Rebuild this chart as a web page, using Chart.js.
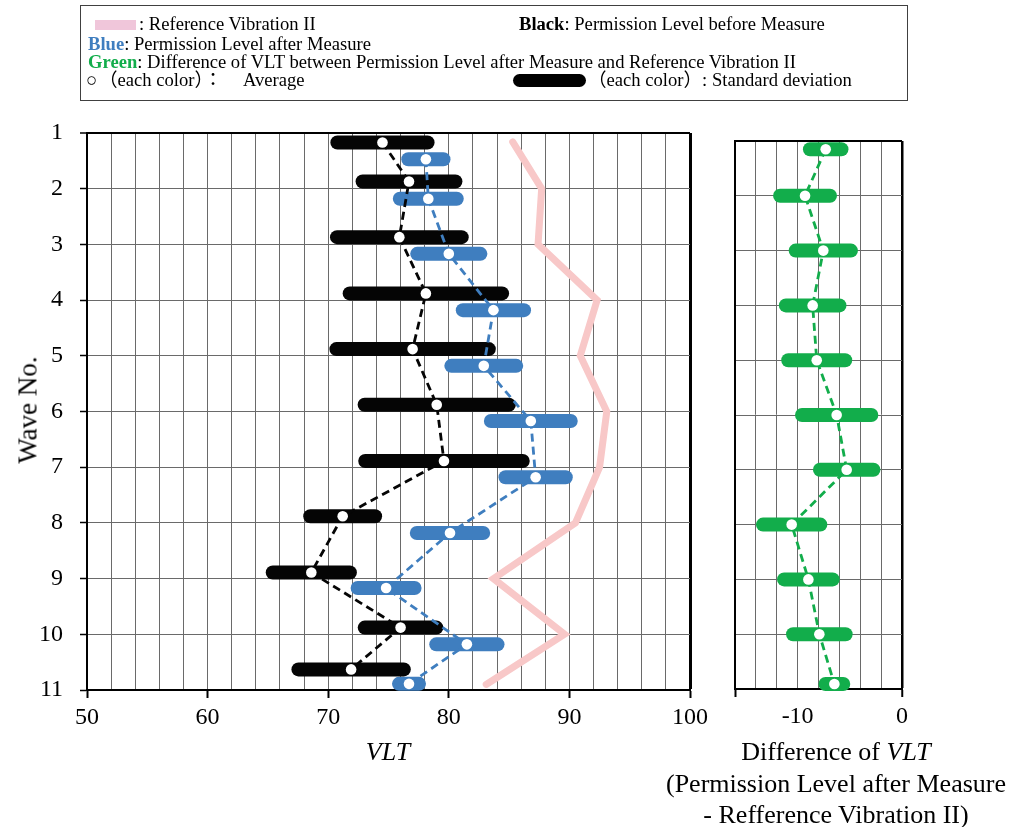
<!DOCTYPE html>
<html>
<head>
<meta charset="utf-8">
<script src="https://cdn.jsdelivr.net/npm/chart.js@4.4.0/dist/chart.umd.min.js"></script>
<style>
  body { margin: 0; background: #fff; }
  #page { position: relative; width: 1013px; height: 827px; overflow: hidden;
          font-family: "Liberation Serif", "Times New Roman", "Noto Sans CJK JP", serif; color: #000; }
  canvas { position: absolute; top: 0; }
  .t { position: absolute; white-space: pre; transform: translateY(-50%); line-height: 1; }
  .lg { font-size: 18.6px; }
  .c { transform: translate(-50%, -50%); font-size: 26px; }
  #legend { position: absolute; left: 80px; top: 5px; width: 826px; height: 94px; border: 1px solid #404040; }
</style>
</head>
<body>
<div id="page">
  <canvas id="mainChart" width="720" height="827" style="left:0"></canvas>
  <canvas id="diffChart" width="293" height="827" style="left:720px"></canvas>

  <div id="legend"></div>
  <div style="position:absolute;left:95px;top:20px;width:41px;height:10px;background:#F0C6DA"></div>
  <div class="t lg" style="left:139px;top:24px">: Reference Vibration II</div>
  <div class="t lg" style="left:519px;top:24px"><b>Black</b>: Permission Level before Measure</div>
  <div class="t lg" style="left:88px;top:44px"><b style="color:#3F7EBF">Blue</b>: Permission Level after Measure</div>
  <div class="t lg" style="left:88px;top:62px"><b style="color:#12AD4B">Green</b>: Difference of VLT between Permission Level after Measure and Reference Vibration II</div>
  <div class="t lg" style="left:86px;top:80px">○</div>
  <div class="t lg" style="left:99px;top:80px">（each color）：</div>
  <div class="t lg" style="left:243px;top:80px">Average</div>
  <div style="position:absolute;left:513px;top:74px;width:73px;height:13px;border-radius:7px;background:#000"></div>
  <div class="t lg" style="left:588px;top:80px">（each color）: Standard deviation</div>

  <div class="t c" style="left:28px;top:410px;font-size:27px;transform:translate(-50%,-50%) rotate(-90deg)">Wave No.</div>
  <div class="t c" style="left:388px;top:752px"><i>VLT</i></div>
  <div class="t c" style="left:836px;top:752px">Difference of <i>VLT</i></div>
  <div class="t c" style="left:836px;top:784px">(Permission Level after Measure</div>
  <div class="t c" style="left:836px;top:815px">- Refference Vibration II)</div>
</div>
<script>
// values (x in VLT, y = plotted wave position)
const waves = [1, 2, 3, 4, 5, 6, 7, 8, 9, 10, 11];
const refVib = [85.3, 87.7, 87.4, 92.3, 90.9, 93.1, 92.5, 90.5, 83.7, 89.6, 83.1];
const refY = [1.16, 2, 3, 4, 5, 6, 7, 8, 9, 10, 10.9];
const beforeMean = [74.5, 76.7, 75.9, 78.1, 77.0, 79.0, 79.6, 71.2, 68.6, 76.0, 71.9];
const beforeSd = [3.74, 3.85, 5.17, 6.32, 6.32, 5.98, 6.53, 2.69, 3.2, 2.97, 4.37];
const beforeY = [1.17, 1.87, 2.87, 3.88, 4.88, 5.88, 6.89, 7.88, 8.89, 9.88, 10.63];
const afterMean = [78.1, 78.3, 80.0, 83.7, 82.9, 86.8, 87.2, 80.1, 74.8, 81.5, 76.7];
const afterSd = [1.46, 2.36, 2.62, 2.54, 2.69, 3.31, 2.5, 2.75, 2.36, 2.54, 0.83];
const afterY = [1.47, 2.18, 3.17, 4.18, 5.18, 6.17, 7.18, 8.18, 9.17, 10.18, 10.89];
const diffMean = [-7.31, -9.29, -7.54, -8.56, -8.17, -6.26, -5.3, -10.57, -8.97, -7.92, -6.48];
const diffSd = [1.51, 2.39, 2.65, 2.57, 2.73, 3.32, 2.56, 2.75, 2.33, 2.52, 0.85];
const diffY = [1.15, 2, 3, 4, 5, 6, 7, 8, 9, 10, 10.91];
const mainTickLabels = [50, 60, 70, 80, 90, 100];
const diffTickLabels = [-10, 0];

const BLACK = '#050505', BLUE = '#3F7EBF', GREEN = '#12AD4B', PINK = '#F8C8C8';
const GRID = '#6a6a6a';

Chart.defaults.font.family = '"Liberation Serif", "Times New Roman", serif';
Chart.defaults.color = '#000';

// thick rounded bar for mean +- sd
function sdBars(mean, sd, ys, color) {
  return mean.map((m, i) => ({
    data: [{ x: m - sd[i], y: ys[i] }, { x: m + sd[i], y: ys[i] }],
    showLine: true, borderColor: color, borderWidth: 14, borderCapStyle: 'round',
    pointRadius: 0, clip: false, order: 3
  }));
}

// dashed line through the averages + white dots
function avgLine(mean, ys, color) {
  const pts = mean.map((m, i) => ({ x: m, y: ys[i] }));
  return [
    { data: pts, showLine: true, borderColor: color, borderWidth: 2.8, borderDash: [8, 5],
      pointRadius: 0, clip: false, order: 2 },
    { data: pts, showLine: false, pointRadius: 5.3, pointBackgroundColor: '#fff',
      pointBorderWidth: 0, clip: false, order: 1 }
  ];
}

const refLine = {
  data: refVib.map((v, i) => ({ x: v, y: refY[i] })),
  showLine: true, borderColor: PINK, borderWidth: 7, borderJoinStyle: 'miter',
  borderCapStyle: 'round', pointRadius: 0, clip: false, order: 4
};

const common = {
  responsive: false, animation: false, events: [],
  plugins: { legend: { display: false }, tooltip: { enabled: false } }
};

new Chart(document.getElementById('mainChart'), {
  type: 'scatter',
  data: {
    datasets: [
      refLine,
      ...sdBars(beforeMean, beforeSd, beforeY, BLACK),
      ...sdBars(afterMean, afterSd, afterY, BLUE),
      ...avgLine(beforeMean, beforeY, BLACK),
      ...avgLine(afterMean, afterY, BLUE)
    ]
  },
  options: {
    ...common,
    layout: { padding: { top: 133, right: 30, left: 0, bottom: 0 } },
    scales: {
      x: {
        type: 'linear', min: 50, max: 100,
        ticks: {
          stepSize: 2, maxTicksLimit: 60, autoSkip: false, maxRotation: 0, minRotation: 0,
          font: { size: 24 }, padding: 5,
          callback: v => mainTickLabels.includes(v) ? String(v) : ''
        },
        grid: {
          color: c => c.tick && c.tick.value === 100 ? '#000' : GRID,
          lineWidth: c => c.tick && c.tick.value === 100 ? 3 : 1,
          tickLength: 8, tickWidth: 2,
          tickColor: c => c.tick && mainTickLabels.includes(c.tick.value) ? '#000' : 'rgba(0,0,0,0)'
        },
        border: { color: '#000', width: 2 },
        afterFit: s => { s.height = 137; }
      },
      y: {
        type: 'linear', min: 1, max: 11, reverse: true,
        ticks: { stepSize: 1, font: { size: 24 }, padding: 17 },
        grid: {
          color: c => c.tick && c.tick.value === 1 ? '#000' : GRID,
          lineWidth: c => c.tick && c.tick.value === 1 ? 2 : 1,
          tickLength: 7, tickWidth: 1.5, tickColor: '#000'
        },
        border: { color: '#000', width: 2 },
        afterFit: s => { s.width = 87; }
      }
    }
  }
});

new Chart(document.getElementById('diffChart'), {
  type: 'scatter',
  data: {
    datasets: [
      ...sdBars(diffMean, diffSd, diffY, GREEN),
      ...avgLine(diffMean, diffY, GREEN)
    ]
  },
  options: {
    ...common,
    layout: { padding: { top: 141, right: 111, left: 0, bottom: 0 } },
    scales: {
      x: {
        type: 'linear', min: -16, max: 0,
        ticks: {
          stepSize: 2, maxTicksLimit: 60, autoSkip: false, maxRotation: 0, minRotation: 0,
          font: { size: 24 }, padding: 5,
          callback: v => diffTickLabels.includes(v) ? String(v) : ''
        },
        grid: {
          color: c => c.tick && c.tick.value === 0 ? '#000' : GRID,
          lineWidth: c => c.tick && c.tick.value === 0 ? 2.5 : 1,
          tickLength: 8, tickWidth: 2,
          tickColor: c => c.tick && (c.tick.value === -16 || c.tick.value === 0) ? '#000' : 'rgba(0,0,0,0)'
        },
        border: { color: '#000', width: 2 },
        afterFit: s => { s.height = 138; }
      },
      y: {
        type: 'linear', min: 1, max: 11, reverse: true,
        ticks: { stepSize: 1, display: false },
        grid: {
          color: c => c.tick && c.tick.value === 1 ? '#000' : GRID,
          lineWidth: c => c.tick && c.tick.value === 1 ? 2 : 1,
          drawTicks: false
        },
        border: { color: '#000', width: 2 },
        afterFit: s => { s.width = 15; }
      }
    }
  }
});
</script>
</body>
</html>
